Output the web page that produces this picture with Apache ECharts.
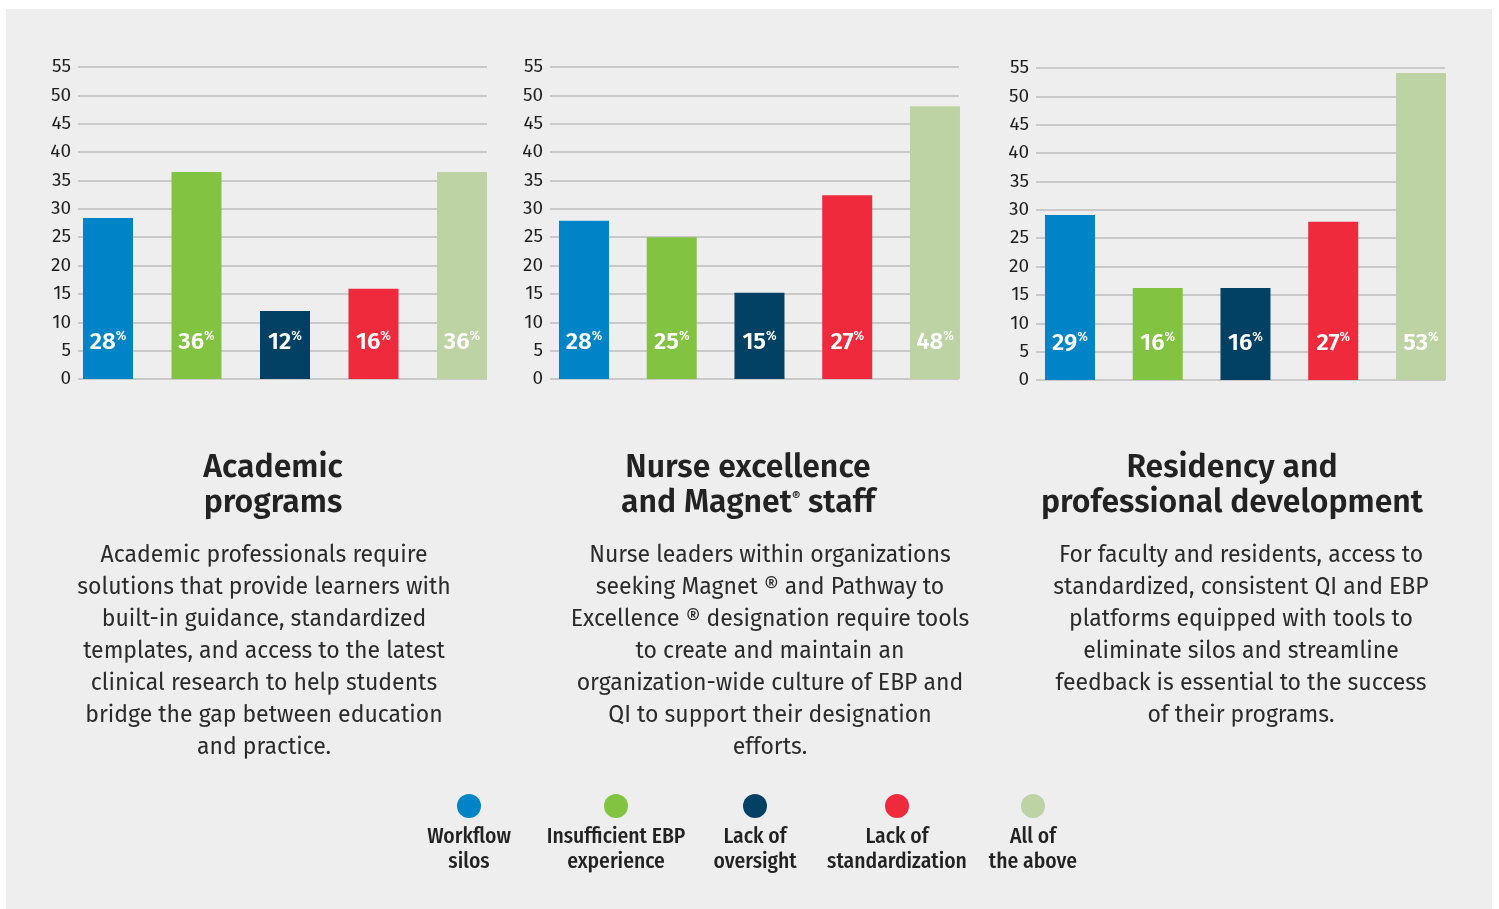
<!DOCTYPE html>
<html>
<head>
<meta charset="utf-8">
<script src="https://cdn.jsdelivr.net/npm/echarts@6/dist/echarts.min.js"></script>
<style>
html,body{margin:0;padding:0;background:#fff;}
#chart{width:1499px;height:909px;}
</style>
</head>
<body>
<div id="chart"></div>
<script>
// ---- data ----
const categories = ['Workflow silos', 'Insufficient EBP experience', 'Lack of oversight', 'Lack of standardization', 'All of the above'];
const legendLabels = ['Workflow\nsilos', 'Insufficient EBP\nexperience', 'Lack of\noversight', 'Lack of\nstandardization', 'All of\nthe above'];
const barColors = ['#0084c8', '#82c341', '#034164', '#ee2a3c', '#bdd3a3'];
const academicValues = [28.4, 36.5, 12.0, 15.9, 36.5];
const academicLabels = ['28', '36', '12', '16', '36'];
const nurseValues = [27.9, 25.0, 15.2, 32.4, 48.1];
const nurseLabels = ['28', '25', '15', '27', '48'];
const residencyValues = [29.1, 16.2, 16.2, 27.9, 54.1];
const residencyLabels = ['29', '16', '16', '27', '53'];
const yTicks = [0, 55, 5]; // min, max, interval

const FONT = '"Fira Sans", "Open Sans", sans-serif';

const panels = [
  {values: academicValues, labels: academicLabels, lineLeft: 78, lineWidth: 409, barLeft: 63.75, barWidth: 442.5, top: 67,
   title: '{t|Academic}\n{t|programs}', titleX: 273,
   desc: 'Academic professionals require\nsolutions that provide learners with\nbuilt-in guidance, standardized\ntemplates, and access to the latest\nclinical research to help students\nbridge the gap between education\nand practice.', descX: 264},
  {values: nurseValues, labels: nurseLabels, lineLeft: 550, lineWidth: 409, barLeft: 540.1, barWidth: 438.75, top: 67,
   title: '{t|Nurse excellence}\n{t|and Magnet}{r|®}{t| staff}', titleX: 748,
   desc: 'Nurse leaders within organizations\nseeking Magnet ® and Pathway to\nExcellence ® designation require tools\nto create and maintain an\norganization-wide culture of EBP and\nQI to support their designation\nefforts.', descX: 770},
  {values: residencyValues, labels: residencyLabels, lineLeft: 1036, lineWidth: 409, barLeft: 1026.1, barWidth: 438.75, top: 68,
   title: '{t|Residency and}\n{t|professional development}', titleX: 1232,
   desc: 'For faculty and residents, access to\nstandardized, consistent QI and EBP\nplatforms equipped with tools to\neliminate silos and streamline\nfeedback is essential to the success\nof their programs.', descX: 1241}
];

const grid = [], xAxis = [], yAxis = [], series = [];
panels.forEach((p, i) => {
  const plotH = 312;
  grid.push({left: p.lineLeft, top: p.top, width: p.lineWidth, height: plotH});
  grid.push({left: p.barLeft, top: p.top, width: p.barWidth, height: plotH});
  xAxis.push({type: 'value', gridIndex: 2 * i, show: false, min: 0, max: 1});
  xAxis.push({type: 'category', gridIndex: 2 * i + 1, data: categories, show: false});
  yAxis.push({
    type: 'value', gridIndex: 2 * i, min: yTicks[0], max: yTicks[1], interval: yTicks[2],
    axisLine: {show: false}, axisTick: {show: false},
    axisLabel: {color: '#1e1e1e', fontSize: 19, fontFamily: FONT, margin: 7},
    splitLine: {lineStyle: {color: '#c9c9c9', width: 2}}
  });
  yAxis.push({type: 'value', gridIndex: 2 * i + 1, min: yTicks[0], max: yTicks[1], show: false});
  series.push({
    type: 'bar', xAxisIndex: 2 * i + 1, yAxisIndex: 2 * i + 1, barWidth: 50,
    data: p.values.map((v, k) => ({value: v, itemStyle: {color: barColors[k]}})),
    label: {
      show: true, position: 'insideBottom', distance: 24,
      formatter: (params) => '{n|' + p.labels[params.dataIndex] + '}{p|%}',
      rich: {
        n: {fontSize: 24, fontWeight: 600, color: '#fff', fontFamily: FONT, lineHeight: 25},
        p: {fontSize: 12.5, color: '#fff', fontFamily: FONT, verticalAlign: 'top', lineHeight: 12, fontWeight: 500}
      }
    },
    silent: true, z: 3
  });
});

const graphic = [
  {type: 'rect', shape: {x: 6, y: 9, width: 1486, height: 900}, style: {fill: '#eeeeee'}, z: -10, silent: true}
];
panels.forEach((p) => {
  graphic.push({
    type: 'text', x: p.titleX, y: 451, z: 5,
    style: {
      text: p.title, align: 'center', verticalAlign: 'top',
      rich: {
        t: {fontSize: 32, fontWeight: 600, fill: '#222', fontFamily: FONT, lineHeight: 35},
        r: {fontSize: 13, fontWeight: 600, fill: '#222', fontFamily: FONT, lineHeight: 35, verticalAlign: 'top', padding: [5, 0, 0, 0]}
      }
    }
  });
  graphic.push({
    type: 'text', x: p.descX, y: 540, z: 5,
    style: {text: p.desc, align: 'center', verticalAlign: 'top', fontSize: 23, fontWeight: 400, lineHeight: 32, fill: '#2a2a2a', fontFamily: FONT}
  });
});
const legendX = [469, 616, 755, 897, 1033];
legendLabels.forEach((lab, k) => {
  graphic.push({type: 'circle', shape: {cx: legendX[k], cy: 806, r: 12}, style: {fill: barColors[k]}, z: 5});
  graphic.push({
    type: 'text', x: legendX[k], y: 824, z: 5,
    style: {text: lab, align: 'center', verticalAlign: 'top', fontSize: 21.5, fontWeight: 500, lineHeight: 25, fill: '#222', fontFamily: '"Fira Sans Condensed", "Fira Sans", sans-serif'}
  });
});

const chart = echarts.init(document.getElementById('chart'));
chart.setOption({
  backgroundColor: '#ffffff',
  animation: false,
  grid, xAxis, yAxis, series, graphic
});
</script>
</body>
</html>
